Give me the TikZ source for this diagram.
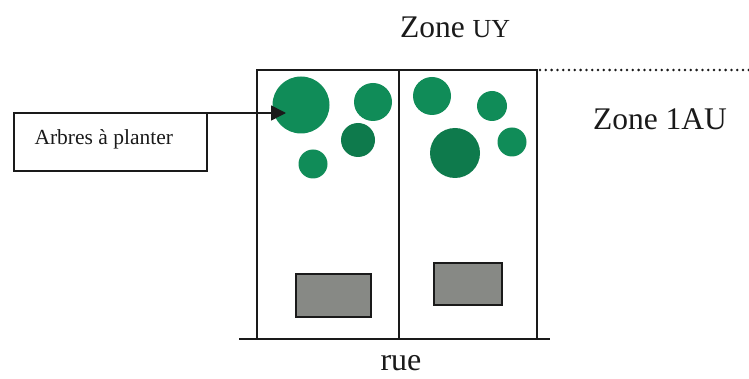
\documentclass[tikz,border=0pt]{standalone}
\usepackage{fontspec}
\setmainfont{Liberation Serif}
\usetikzlibrary{arrows.meta}
\definecolor{treegreen}{HTML}{108C58}
\definecolor{treedark}{HTML}{0E7A4C}
\definecolor{housegrey}{HTML}{878985}
\definecolor{inkline}{HTML}{1A1A1A}
\tikzset{
  plotline/.style={draw=inkline,line width=1.5pt},
  tree/.style={circle,fill=treegreen,draw=none,inner sep=0pt,outer sep=0pt},
  darktree/.style={tree,fill=treedark},
  house/.style={rectangle,fill=housegrey,draw=inkline,line width=1.7pt,inner sep=0pt,outer sep=0pt},
  textlabel/.style={inner sep=0pt,outer sep=0pt,anchor=base west,text=inkline},
}
\begin{document}
\begin{tikzpicture}[x=1pt,y=-1pt]
\useasboundingbox (0,0) rectangle (749,379);
% trees first, lines above them
\node[tree,minimum size=57pt] (t1) at (301,105) {};
\node[tree,minimum size=38pt] (t2) at (373,102) {};
\node[darktree,minimum size=34pt] (t3) at (358,140) {};
\node[tree,minimum size=29pt] (t4) at (313,164) {};
\node[tree,minimum size=38pt] (t5) at (432,96) {};
\node[tree,minimum size=30pt] (t6) at (492,106) {};
\node[darktree,minimum size=50pt] (t7) at (455,153) {};
\node[tree,minimum size=29pt] (t8) at (512,142) {};
% plots
\coordinate (tl) at (257,70);
\coordinate (tm) at (399,70);
\coordinate (tr) at (537,70);
\coordinate (bl) at (257,339);
\coordinate (bm) at (399,339);
\coordinate (br) at (537,339);
\coordinate (roadl) at (239,339);
\coordinate (roadr) at (550,339);
\coordinate (dotstart) at (540,70);
\coordinate (dotend) at (749,70);
\draw[plotline] (bl) -- (tl) -- (tr) -- (br);
\draw[plotline] (tm) -- (bm);
\draw[plotline] (roadl) -- (roadr);
\draw[draw=inkline,line width=2.8pt,line cap=round,dash pattern=on 0pt off 5.8pt] (dotstart) -- (dotend);
% houses
\node[house,minimum width=75pt,minimum height=43pt] (h1) at (333.5,295.5) {};
\node[house,minimum width=68pt,minimum height=42pt] (h2) at (468,284) {};
% legend
\node[draw=inkline,line width=1.5pt,minimum width=193pt,minimum height=58pt,inner sep=0pt,outer sep=0pt] (legend) at (110.5,142) {};
\coordinate (tip) at (286,113);
\draw[draw=inkline,line width=1.6pt,-{Triangle[length=15pt,width=15pt]}] (legend.north east) -- (tip);
% texts
\node[textlabel,font=\fontsize{21.5}{24}\selectfont] (lt) at (34.5,145) {Arbres à planter};
\node[textlabel,font=\fontsize{31.5}{34}\selectfont] (z1) at (400,38) {Zone {\fontsize{26}{28}\selectfont UY}};
\node[textlabel,font=\fontsize{31.5}{34}\selectfont] (z2) at (593,129.5) {Zone 1AU};
\node[textlabel,font=\fontsize{32}{34}\selectfont] (r) at (380.5,370.5) {rue};
\end{tikzpicture}
\end{document}
